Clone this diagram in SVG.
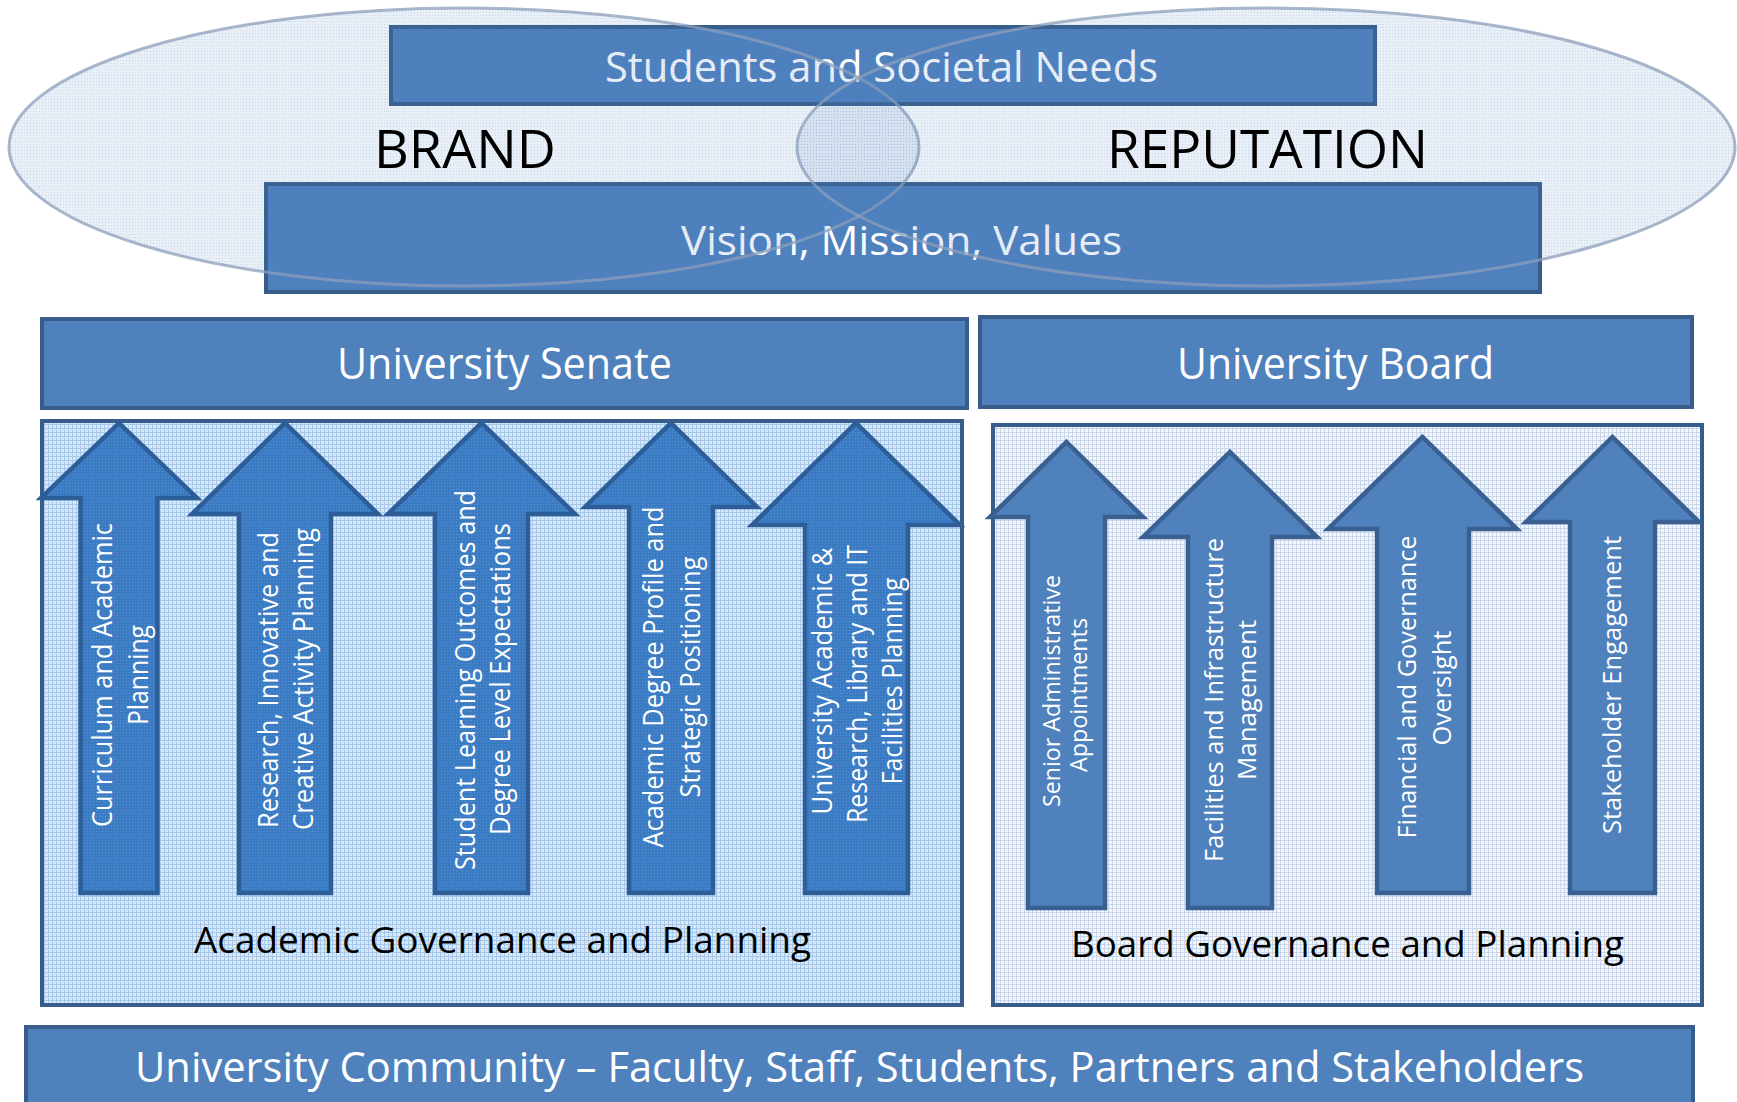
<svg xmlns="http://www.w3.org/2000/svg" width="1737" height="1102" viewBox="0 0 1737 1102">
<style>
.box{fill:#4f81bd;stroke:#385d8a;stroke-width:4}
.panelA{fill:url(#pa);stroke:#385d8a;stroke-width:4}
.panelB{fill:url(#pb);stroke:#385d8a;stroke-width:4}
.arrA{fill:url(#pr);stroke:#2d5e98;stroke-width:4.5;stroke-linejoin:miter}
.arrB{fill:#4f81bd;stroke:#3a6092;stroke-width:4.5;stroke-linejoin:miter}
.ell{fill:url(#pe);stroke:#8c9fbb;stroke-opacity:0.75;stroke-width:3}
text{font-family:"Open Sans","Noto Sans","Liberation Sans",sans-serif}
.wt{fill:#ffffff}
.bk{fill:#000000}
.h1{font-size:42px}
.h2{font-size:43px}
.big{font-size:53px}
.lab{font-size:36px}
.at{font-size:27px;fill:#ffffff;text-anchor:middle}
.bt{font-size:26px;fill:#ffffff;text-anchor:middle}
</style>
<defs>
<pattern id="pe" width="3" height="3" patternUnits="userSpaceOnUse">
<rect width="3" height="3" fill="#4f81bd" fill-opacity="0.12"/>
<rect width="1" height="1" fill="#4f81bd" fill-opacity="0.22"/>
</pattern>
<pattern id="pa" width="4" height="4" patternUnits="userSpaceOnUse">
<rect width="4" height="4" fill="#d8e8f8"/>
<rect width="4" height="1" fill="#a6c8ea"/>
<rect width="1" height="4" fill="#a6c8ea"/>
</pattern>
<pattern id="pb" width="4" height="4" patternUnits="userSpaceOnUse">
<rect width="4" height="4" fill="#f3f6fb"/>
<rect width="4" height="1" fill="#cad7ea"/>
<rect width="1" height="4" fill="#cad7ea"/>
</pattern>
<pattern id="pr" width="3" height="3" patternUnits="userSpaceOnUse">
<rect width="3" height="3" fill="#3b7bc3"/>
<rect width="1" height="1" fill="#5791cf"/>
</pattern>
</defs>

<g id="students-needs">
<rect class="box" x="391" y="27" width="984" height="77"/>
<text class="wt h1" x="605" y="82" textLength="553" lengthAdjust="spacingAndGlyphs">Students and Societal Needs</text>
</g>
<g id="vision-mission-values">
<rect class="box" x="266" y="184" width="1274" height="108"/>
<text class="wt" style="font-size:40px" x="681" y="255" textLength="441" lengthAdjust="spacingAndGlyphs">Vision, Mission, Values</text>
</g>

<g id="brand-reputation">
<ellipse class="ell" cx="464" cy="147" rx="455" ry="139"/>
<ellipse class="ell" cx="1266" cy="147" rx="469" ry="139"/>
<text class="bk big" x="374" y="168" textLength="182" lengthAdjust="spacingAndGlyphs">BRAND</text>
<text class="bk big" x="1107" y="168" textLength="321" lengthAdjust="spacingAndGlyphs">REPUTATION</text>
</g>

<g id="university-senate">
<rect class="box" x="42" y="319" width="925" height="89"/>
<text class="wt h2" x="337" y="379" textLength="335" lengthAdjust="spacingAndGlyphs">University Senate</text>
</g>
<g id="university-board">
<rect class="box" x="980" y="317" width="712" height="90"/>
<text class="wt h2" x="1177" y="379" textLength="317" lengthAdjust="spacingAndGlyphs">University Board</text>
</g>

<g id="academic-governance">
<rect class="panelA" x="42" y="421" width="920" height="584"/>
<text class="bk lab" x="194" y="953" textLength="617" lengthAdjust="spacingAndGlyphs">Academic Governance and Planning</text>
</g>
<g id="board-governance">
<rect class="panelB" x="993" y="425" width="709" height="580"/>
<text class="bk lab" x="1071" y="957" textLength="553" lengthAdjust="spacingAndGlyphs">Board Governance and Planning</text>
</g>

<g id="arrow-curriculum">
<polygon class="arrA" points="119,423 197,498 157.5,498 157.5,893 80.5,893 80.5,498 41,498"/>
<text class="at" transform="translate(112,675) rotate(-90)" textLength="304" lengthAdjust="spacingAndGlyphs">Curriculum and Academic</text>
<text class="at" transform="translate(148,675) rotate(-90)" textLength="100" lengthAdjust="spacingAndGlyphs">Planning</text>
</g>
<g id="arrow-research">
<polygon class="arrA" points="285,423 378,514 331,514 331,893 239,893 239,514 192,514"/>
<text class="at" transform="translate(278,680) rotate(-90)" textLength="296" lengthAdjust="spacingAndGlyphs">Research, Innovative and</text>
<text class="at" transform="translate(313,679) rotate(-90)" textLength="302" lengthAdjust="spacingAndGlyphs">Creative Activity Planning</text>
</g>
<g id="arrow-learning-outcomes">
<polygon class="arrA" points="481.5,423 575,514 528,514 528,893 435,893 435,514 388,514"/>
<text class="at" transform="translate(475,680) rotate(-90)" textLength="380" lengthAdjust="spacingAndGlyphs">Student Learning Outcomes and</text>
<text class="at" transform="translate(510,679) rotate(-90)" textLength="312" lengthAdjust="spacingAndGlyphs">Degree Level Expectations</text>
</g>
<g id="arrow-degree-profile">
<polygon class="arrA" points="671,423 757,507 713,507 713,893 629,893 629,507 585,507"/>
<text class="at" transform="translate(663,677) rotate(-90)" textLength="341" lengthAdjust="spacingAndGlyphs">Academic Degree Profile and</text>
<text class="at" transform="translate(700,677) rotate(-90)" textLength="241" lengthAdjust="spacingAndGlyphs">Strategic Positioning</text>
</g>
<g id="arrow-facilities-planning">
<polygon class="arrA" points="856,423 960,525 908,525 908,893 805,893 805,525 752,525"/>
<text class="at" transform="translate(832,681) rotate(-90)" textLength="267" lengthAdjust="spacingAndGlyphs">University Academic &amp;</text>
<text class="at" transform="translate(867,684) rotate(-90)" textLength="278" lengthAdjust="spacingAndGlyphs">Research, Library and IT</text>
<text class="at" transform="translate(902,681) rotate(-90)" textLength="207" lengthAdjust="spacingAndGlyphs">Facilities Planning</text>
</g>

<g id="arrow-senior-appointments">
<polygon class="arrB" points="1066.5,442 1143,517 1105,517 1105,908 1028,908 1028,517 990,517"/>
<text class="bt" style="font-size:23px" transform="translate(1060,691) rotate(-90)" textLength="232" lengthAdjust="spacingAndGlyphs">Senior Administrative</text>
<text class="bt" style="font-size:23px" transform="translate(1087,695) rotate(-90)" textLength="154" lengthAdjust="spacingAndGlyphs">Appointments</text>
</g>
<g id="arrow-infrastructure">
<polygon class="arrB" points="1230,452 1317,537 1272,537 1272,908 1188,908 1188,537 1143,537"/>
<text class="bt" transform="translate(1223,700) rotate(-90)" textLength="324" lengthAdjust="spacingAndGlyphs">Facilities and Infrastructure</text>
<text class="bt" transform="translate(1256,700) rotate(-90)" textLength="160" lengthAdjust="spacingAndGlyphs">Management</text>
</g>
<g id="arrow-financial-oversight">
<polygon class="arrB" points="1422.5,437 1517,529 1469,529 1469,893 1377,893 1377,529 1328,529"/>
<text class="bt" transform="translate(1416,687) rotate(-90)" textLength="303" lengthAdjust="spacingAndGlyphs">Financial and Governance</text>
<text class="bt" transform="translate(1451,688) rotate(-90)" textLength="115" lengthAdjust="spacingAndGlyphs">Oversight</text>
</g>
<g id="arrow-stakeholder">
<polygon class="arrB" points="1612.5,437 1699,522 1655,522 1655,893 1570,893 1570,522 1526,522"/>
<text class="bt" transform="translate(1621,685) rotate(-90)" textLength="298" lengthAdjust="spacingAndGlyphs">Stakeholder Engagement</text>
</g>

<g id="university-community">
<rect class="box" x="26" y="1027" width="1667" height="90"/>
<text class="wt h1" x="135" y="1082" textLength="1449" lengthAdjust="spacingAndGlyphs">University Community – Faculty, Staff, Students, Partners and Stakeholders</text>
</g>

<g id="connectors"></g>
</svg>
